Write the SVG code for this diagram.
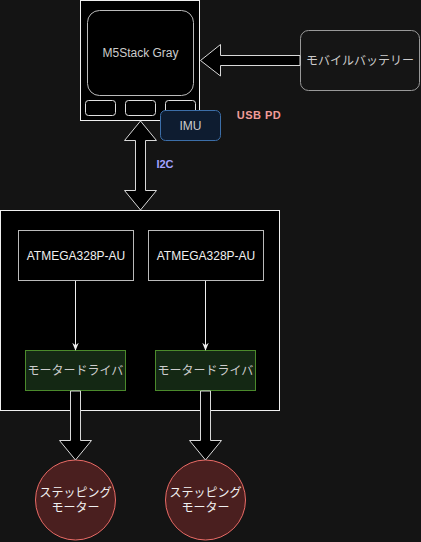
<svg xmlns="http://www.w3.org/2000/svg" width="421" height="542" viewBox="0 0 421 542">
<style>
text{font-family:"Liberation Sans","Noto Sans CJK JP",sans-serif;font-size:12px;text-anchor:middle;dominant-baseline:central}
.lt{fill:#f0f0f0}
.gray{fill:#cccccc}
.blk{fill:#000;stroke:#f0f0f0;stroke-width:1}
.btn{fill:#000;stroke:#e0e0e0;stroke-width:1}
.fa{fill:#000;stroke:#d8d8d8;stroke-width:1}
.drv{fill:#142814;stroke:#4b8a2c;stroke-width:1}
.mot{fill:#4a1f1f;stroke:#ea6b66;stroke-width:1}
.line{stroke:#f0f0f0;stroke-width:1;fill:none}
</style>
<defs>
<marker id="ah" viewBox="0 0 10 10" refX="9" refY="5" markerWidth="8" markerHeight="8" orient="auto" markerUnits="userSpaceOnUse">
<path d="M0,1 L10,5 L0,9 L3,5 Z" fill="#f0f0f0"/>
</marker>
</defs>
<rect width="421" height="542" fill="#141414"/>

<g id="m5stack">
<rect x="80.5" y="0.5" width="119" height="120" class="blk"/>
<rect x="87.5" y="10.5" width="106" height="85" rx="12" class="blk" style="stroke:#bbbbbb"/>
<text x="140.5" y="53" class="gray">M5Stack Gray</text>
<rect x="85.5" y="100.5" width="30" height="15" rx="3" class="btn"/>
<rect x="125.5" y="100.5" width="30" height="15" rx="3" class="btn"/>
<rect x="165.5" y="100.5" width="30" height="15" rx="3" class="btn"/>
</g>

<g id="imu">
<rect x="160.5" y="110.5" width="60" height="30" rx="5" fill="#0e1c30" stroke="#3c6ea8" stroke-width="1"/>
<text x="190.5" y="125.5" class="gray">IMU</text>
</g>

<g id="usbpd">
<text x="259" y="115" style="fill:#f19c99;font-size:11px;font-weight:bold;letter-spacing:0.5px">USB PD</text>
</g>

<g id="battery">
<rect x="300.5" y="30.5" width="119" height="60" rx="8" fill="#151515" stroke="#999999" stroke-width="1"/>
<text x="360" y="60.5" class="gray">モバイルバッテリー</text>
</g>

<g id="controller">
<rect x="0.5" y="210.5" width="279" height="200" class="blk"/>
</g>

<g id="atmega1">
<rect x="18.5" y="230.5" width="115" height="50" fill="#000" stroke="#bbbbbb" stroke-width="1"/>
<text x="76" y="255.5" class="lt">ATMEGA328P-AU</text>
</g>
<g id="atmega2">
<rect x="148.5" y="230.5" width="115" height="50" fill="#000" stroke="#bbbbbb" stroke-width="1"/>
<text x="206" y="255.5" class="lt">ATMEGA328P-AU</text>
</g>

<g id="driver1">
<rect x="25.5" y="350.5" width="100" height="40" class="drv"/>
<text x="75.5" y="370.5" class="gray">モータードライバ</text>
</g>
<g id="driver2">
<rect x="155.5" y="350.5" width="100" height="40" class="drv"/>
<text x="205.5" y="370.5" class="gray">モータードライバ</text>
</g>

<g id="motor1">
<circle cx="75.5" cy="500" r="40" class="mot"/>
<text x="75.5" y="493" class="lt">ステッピング</text>
<text x="75.5" y="508" class="lt">モーター</text>
</g>
<g id="motor2">
<circle cx="205.5" cy="500" r="40" class="mot"/>
<text x="205.5" y="493" class="lt">ステッピング</text>
<text x="205.5" y="508" class="lt">モーター</text>
</g>

<g id="connectors">
<polygon class="fa" points="300,55.5 220.5,55.5 220.5,44.5 200.5,60.5 220.5,76 220.5,65.5 300,65.5"/>
<polygon class="fa" points="140.5,121 156.5,140.5 145.5,140.5 145.5,190.5 156.5,190.5 140.5,210 124.5,190.5 135.5,190.5 135.5,140.5 124.5,140.5"/>
<text x="165" y="164" style="fill:#a3a3ff;font-size:11px;font-weight:bold">I2C</text>
<line x1="75.5" y1="281" x2="75.5" y2="350" class="line" marker-end="url(#ah)"/>
<line x1="205.5" y1="281" x2="205.5" y2="350" class="line" marker-end="url(#ah)"/>
<polygon class="fa" points="70.5,391 80.5,391 80.5,440.5 91.5,440.5 75.5,460 59.5,440.5 70.5,440.5"/>
<polygon class="fa" points="200.5,391 210.5,391 210.5,440.5 221.5,440.5 205.5,460 189.5,440.5 200.5,440.5"/>
</g>
</svg>
